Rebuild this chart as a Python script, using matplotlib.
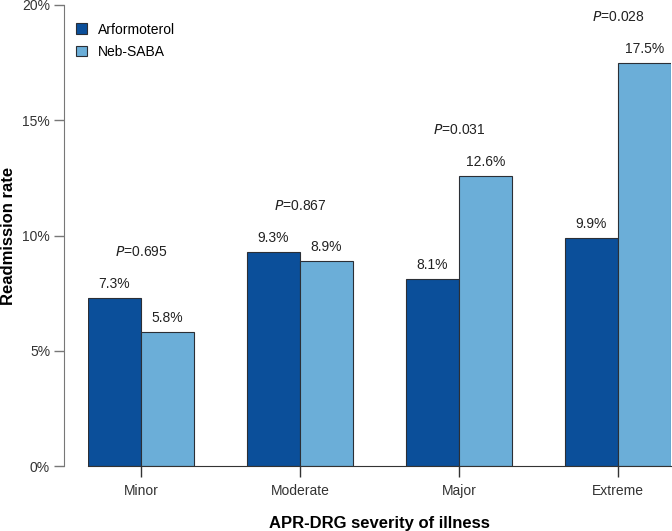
import numpy as np
import matplotlib.pyplot as plt
from matplotlib.ticker import PercentFormatter

plt.rcParams['font.family'] = ['Liberation Sans', 'DejaVu Sans']

# Дані з рисунка
categories = ['Minor', 'Moderate', 'Major', 'Extreme']
arformoterol = [7.3, 9.3, 8.1, 9.9]
neb_saba = [5.8, 8.9, 12.6, 17.5]
p_values = ['0.695', '0.867', '0.031', '0.028']

dark_blue = '#0b4f9a'
light_blue = '#6baed8'
edge = '#2b2f36'

fig = plt.figure(figsize=(6.72, 5.31), dpi=100)
ax = fig.add_axes([88 / 672, 65 / 531, 583 / 672, 461 / 531])

x = np.arange(len(categories))
w = 1 / 3
ax.bar(x - w / 2, arformoterol, w, color=dark_blue, edgecolor=edge, linewidth=0.8,
       label='Arformoterol')
ax.bar(x + w / 2, neb_saba, w, color=light_blue, edgecolor=edge, linewidth=0.8,
       label='Neb-SABA')

# Підписи значень над стовпцями
for xi, a, n in zip(x, arformoterol, neb_saba):
    ax.annotate(f'{a}%', (xi - w / 2, a), xytext=(0, 10), textcoords='offset points',
                ha='center', va='center', fontsize=10, color='#222222')
    ax.annotate(f'{n}%', (xi + w / 2, n), xytext=(0, 10), textcoords='offset points',
                ha='center', va='center', fontsize=10, color='#222222')

# P-значення
for xi, a, n, p in zip(x, arformoterol, neb_saba, p_values):
    ax.annotate(f'$\\it{{P}}$=' + p, (xi, max(a, n)), xytext=(0, 33),
                textcoords='offset points', ha='center', va='center',
                fontsize=10, color='#222222')

ax.set_xlim(-w, len(categories) - 1 + w)
ax.set_ylim(0, 20)
ax.set_yticks([0, 5, 10, 15, 20])
ax.yaxis.set_major_formatter(PercentFormatter(decimals=0))
ax.set_xticks(x)
ax.set_xticklabels(categories)

ax.spines['top'].set_visible(False)
ax.spines['right'].set_visible(False)
ax.spines['left'].set_position(('outward', 17.3))
ax.spines['left'].set_color('#777777')
ax.spines['bottom'].set_color('#333333')
ax.tick_params(axis='y', length=7, width=1, color='#777777', labelcolor='#333333',
               labelsize=10, pad=3)
ax.tick_params(axis='x', length=8, width=1, color='#333333', labelcolor='#333333',
               labelsize=10, pad=5)

ax.set_ylabel('Readmission rate', fontsize=12, fontweight='bold')
ax.yaxis.set_label_coords((16 - 88) / 583, 0.5)
ax.set_xlabel('APR-DRG severity of illness', fontsize=12, fontweight='bold')
ax.xaxis.set_label_coords(0.5, (466 - 516) / 461)

ax.legend(loc='upper left', bbox_to_anchor=(63 / 672, 1 - 10 / 531),
          bbox_transform=fig.transFigure, frameon=False, fontsize=10,
          handlelength=0.8, handleheight=0.8, handletextpad=0.8, labelspacing=0.6)

fig.savefig('out.png', dpi=100)
